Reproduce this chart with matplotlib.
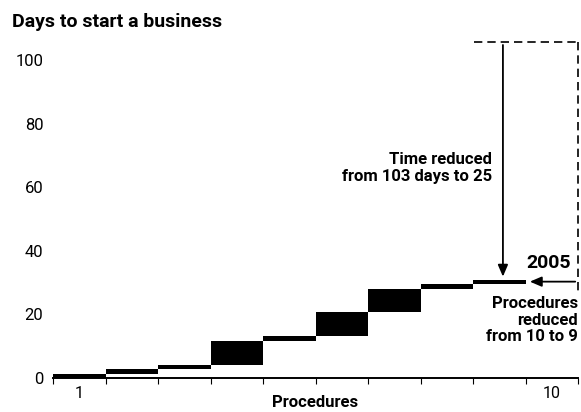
import matplotlib.pyplot as plt
import numpy as np

# days added by each procedure (2005)
procedures = [1, 2, 3, 4, 5, 6, 7, 8, 9]
days = [1.3, 1.4, 1.3, 7.6, 1.6, 7.6, 7.2, 1.6, 1.1]
tick_labels = {1: '1', 10: '10'}

plt.rcParams['font.family'] = ['Roboto', 'DejaVu Sans']

W, H = 581, 412
fig = plt.figure(figsize=(W / 100, H / 100), dpi=100)
# axes area in pixels: x 53..578, y(0)=378, ylim top 110
px_per_day = 3.18
top_px = 378 - 110 * px_per_day
ax = fig.add_axes([53 / W, (H - 378) / H, (578 - 53) / W, (378 - top_px) / H])

bottoms = np.concatenate([[0], np.cumsum(days)[:-1]])
ax.bar(procedures, days, bottom=bottoms, width=1.0, color='black', linewidth=0)

ax.set_xlim(0.5, 10.5)
ax.set_ylim(0, 110)
for s in ['top', 'right', 'left']:
    ax.spines[s].set_visible(False)
ax.spines['bottom'].set_linewidth(1.4)

ax.set_yticks([0, 20, 40, 60, 80, 100])
ax.tick_params(axis='y', length=0, pad=7, labelsize=12)
ax.set_xticks(np.arange(0.5, 11, 1))
ax.set_xticklabels([])
ax.tick_params(axis='x', length=4, width=0.8, direction='out')
for k, lab in tick_labels.items():
    ax.text(k, -2.5, lab, ha='center', va='top', fontsize=11.5, clip_on=False)
ax.set_xlabel('Procedures', fontsize=12, fontweight='bold', labelpad=5)

fig.text(12 / W, 1 - 22 / H, 'Days to start a business', fontsize=14,
         fontweight='bold', va='center', ha='left')

total = sum(days)
top_y = 105.6
x_arrow = 9.07
# dashed bracket
ax.plot([8.52, 10.5], [top_y, top_y], ls=(0, (5, 3)), color='black', lw=1.2, clip_on=False)
ax.plot([10.5, 10.5], [top_y, 26.7], ls=(0, (5, 3)), color='black', lw=1.2, clip_on=False)
# time reduced arrow
ax.annotate('', xy=(x_arrow, total + 0.3), xytext=(x_arrow, top_y),
            arrowprops=dict(arrowstyle='-|>,head_width=0.3,head_length=0.7', color='black', lw=1.3),
            annotation_clip=False)
# procedures reduced arrow
ax.annotate('', xy=(9.53, total - 0.4), xytext=(10.5, total - 0.4),
            arrowprops=dict(arrowstyle='-|>,head_width=0.3,head_length=0.7', color='black', lw=1.3),
            annotation_clip=False)

ax.text(8.86, 66, 'Time reduced\nfrom 103 days to 25', ha='right', va='center',
        fontsize=12, fontweight='bold', linespacing=1.2)
ax.text(10.36, 36.2, '2005', ha='right', va='center', fontsize=14, fontweight='bold')
ax.text(10.5, 18.2, 'Procedures\nreduced\nfrom 10 to 9', ha='right', va='center',
        fontsize=12, fontweight='bold', linespacing=1.1, clip_on=False)

fig.savefig('out.png', dpi=100)
